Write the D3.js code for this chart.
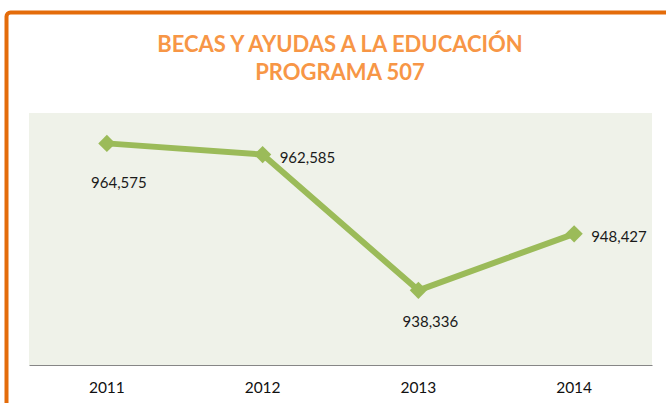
<!DOCTYPE html>
<html>
<head>
<meta charset="utf-8">
<script src="https://cdn.jsdelivr.net/npm/d3@7"></script>
<style>
  body { margin: 0; background: #fff; }
  svg { display: block; }
</style>
</head>
<body>
<div id="viz"></div>
<script>
const years = ['2011', '2012', '2013', '2014'];
const values = [964575, 962585, 938336, 948427];
const labelPos = ['below', 'right', 'below', 'right'];
const titleLines = ['BECAS Y AYUDAS A LA EDUCACIÓN', 'PROGRAMA 507'];

let dimensions = {
  width: 666,
  height: 403,
  margin: { top: 113, right: 14, bottom: 38, left: 29 },
};
dimensions.boundedWidth = dimensions.width - dimensions.margin.left - dimensions.margin.right;
dimensions.boundedHeight = dimensions.height - dimensions.margin.top - dimensions.margin.bottom;

const data = years.map((y, i) => ({ year: y, value: values[i], pos: labelPos[i] }));

const svg = d3.select('#viz').append('svg')
  .attr('width', dimensions.width)
  .attr('height', dimensions.height);

// orange frame (runs off the right and bottom edges)
svg.append('rect')
  .attr('x', 6.5).attr('y', 12.5)
  .attr('width', 720).attr('height', 460)
  .attr('rx', 4)
  .style('fill', 'none')
  .style('stroke', '#E46C0A')
  .style('stroke-width', 4);

// title
svg.append('g').selectAll('text')
  .data(titleLines)
  .join('text')
  .attr('x', 340)
  .attr('y', (d, i) => 52 + i * 28)
  .attr('text-anchor', 'middle')
  .style('font-family', 'Lato, "Open Sans", sans-serif')
  .style('font-weight', 'bold')
  .style('font-size', '22px')
  .style('fill', '#F79646')
  .text(d => d);

const bounds = svg.append('g')
  .attr('transform', `translate(${dimensions.margin.left},${dimensions.margin.top})`);

const x = d3.scaleBand().domain(years).range([0, dimensions.boundedWidth]);
const y = d3.scaleLinear().domain([925000, 970000]).range([dimensions.boundedHeight, 0]);

bounds.append('rect')
  .attr('width', dimensions.boundedWidth)
  .attr('height', dimensions.boundedHeight)
  .style('fill', '#EFF2E9');

const xAxis = bounds.append('g')
  .attr('transform', `translate(0,${dimensions.boundedHeight})`)
  .call(d3.axisBottom(x).tickSize(0).tickPadding(17));
xAxis.select('.domain').style('stroke', '#868686').style('stroke-width', 1.2);
xAxis.selectAll('text')
  .style('font-family', 'Lato, "Open Sans", sans-serif')
  .style('font-size', '15.5px')
  .style('fill', '#111');

const cx = d => x(d.year) + x.bandwidth() / 2;

bounds.append('path')
  .datum(data)
  .attr('d', d3.line().x(cx).y(d => y(d.value)))
  .style('fill', 'none')
  .style('stroke', '#9BBB59')
  .style('stroke-width', 6)
  .style('stroke-linejoin', 'round');

bounds.selectAll('.marker')
  .data(data)
  .join('path')
  .attr('class', 'marker')
  .attr('d', d3.symbol(d3.symbolDiamond2, 190))
  .attr('transform', d => `translate(${cx(d)},${y(d.value)})`)
  .style('fill', '#9BBB59');

const fmt = d3.format(',');
bounds.selectAll('.label')
  .data(data)
  .join('text')
  .attr('class', 'label')
  .attr('x', d => d.pos === 'right' ? cx(d) + 17 : cx(d) + 12)
  .attr('y', (d, i) => d.pos === 'right' ? y(d.value) + 8 : y(d.value) + (i === 0 ? 45 : 37))
  .attr('text-anchor', d => d.pos === 'right' ? 'start' : 'middle')
  .style('font-family', 'Lato, "Open Sans", sans-serif')
  .style('font-size', '15px')
  .style('fill', '#1a1a1a')
  .text(d => fmt(d.value));
</script>
</body>
</html>
